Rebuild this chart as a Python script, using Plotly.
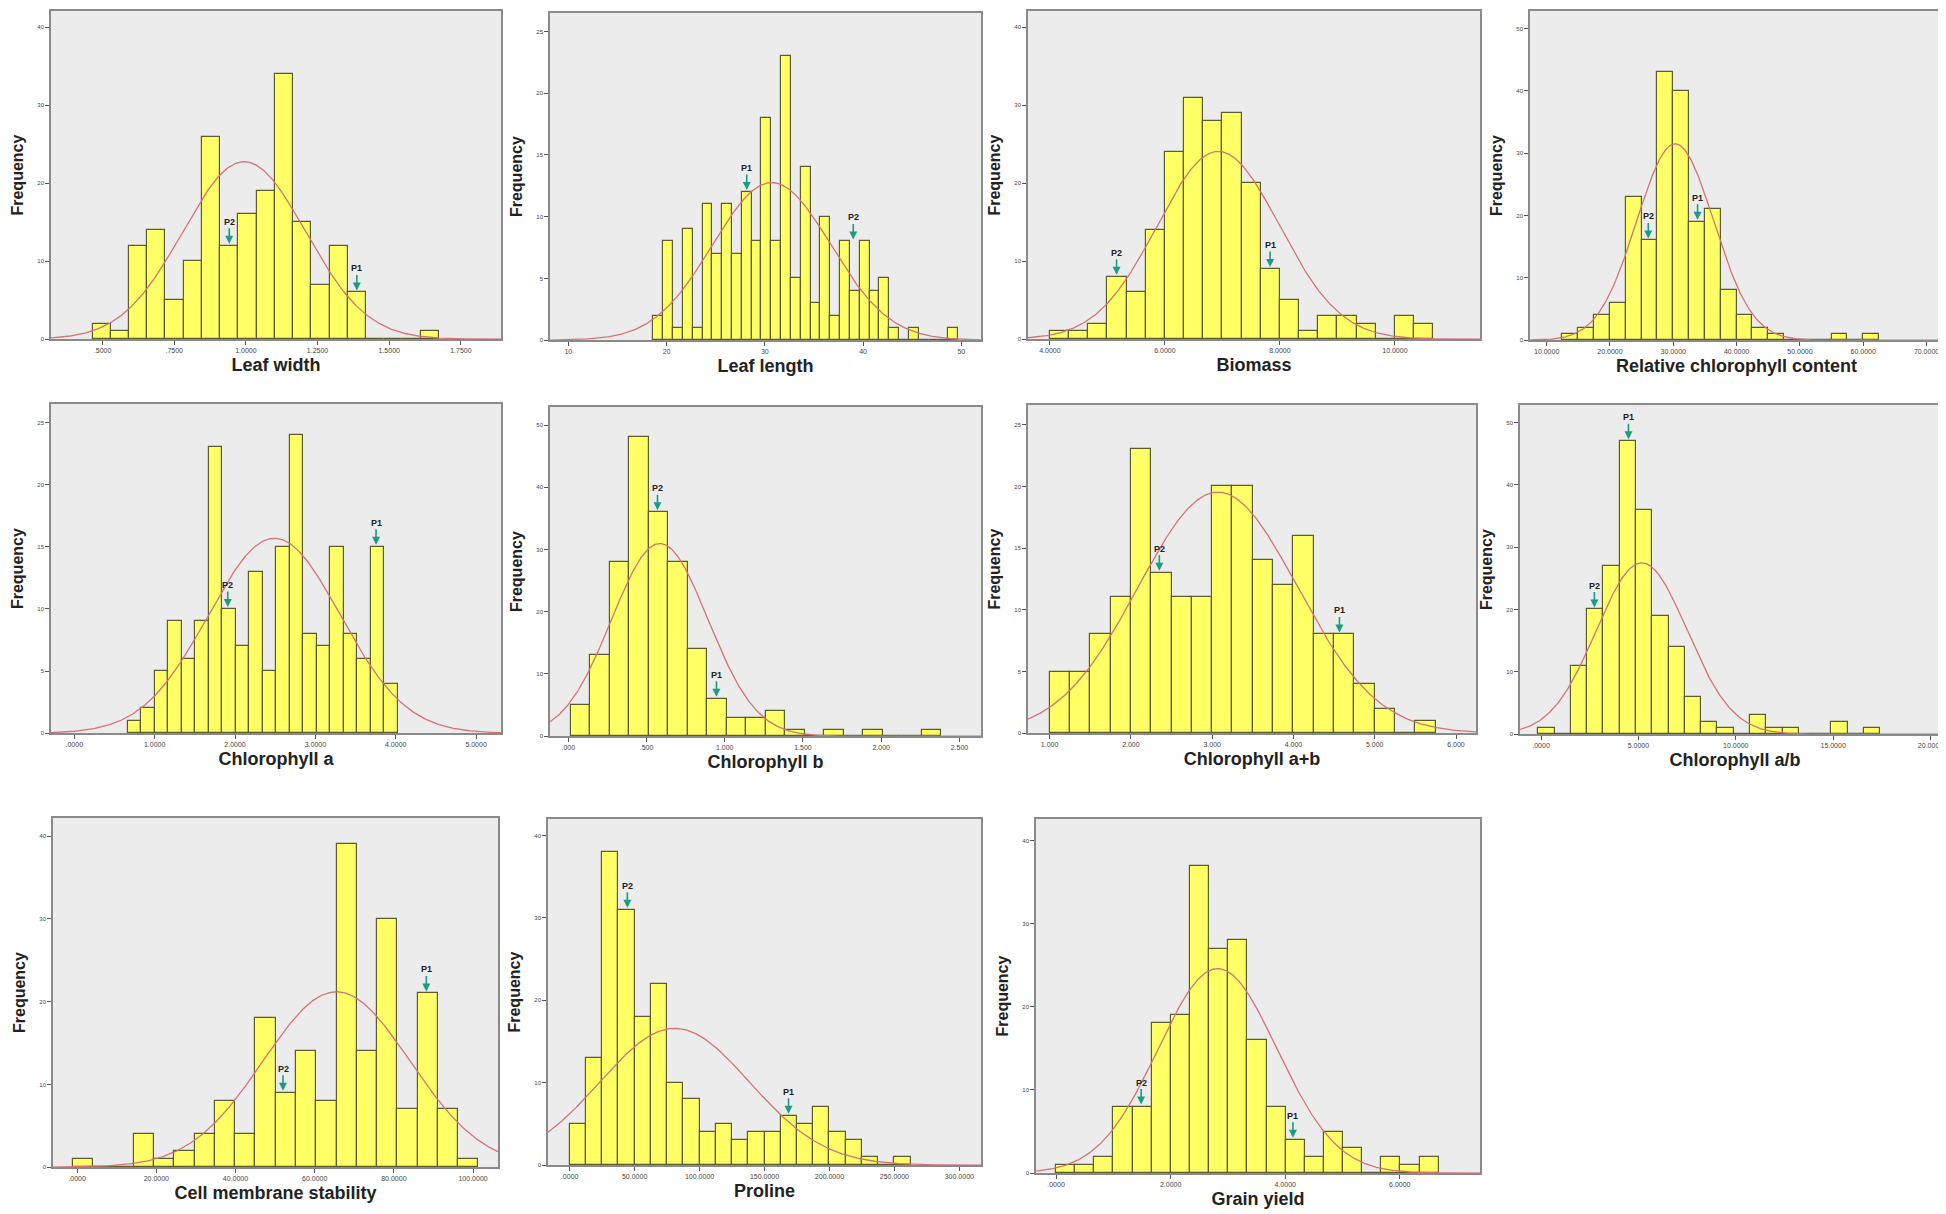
import numpy as np
import plotly.graph_objects as go

W, H = 1946, 1214

# ---------------- data ----------------
leaf_width_counts = [2, 1, 12, 14, 5, 10, 26, 12, 16, 19, 34, 15, 7, 12, 6, 0, 0, 0, 1]
leaf_width_bins = [0.465, 0.0636]          # first bin start, bin width
leaf_width_fit = [0.994, 0.214]            # normal curve mean, sd
leaf_width_marks = [["P2", 0.942, 12], ["P1", 1.387, 6]]
leaf_width_ticks = [0.5, 0.75, 1.0, 1.25, 1.5, 1.75]
leaf_width_ticktext = [".5000", ".7500", "1.0000", "1.2500", "1.5000", "1.7500"]

leaf_length_counts = [2, 8, 1, 9, 1, 11, 7, 11, 7, 12, 8, 18, 8, 23, 5, 14, 3, 10, 2, 8,
                      4, 8, 4, 5, 1, 0, 1, 0, 0, 0, 1]
leaf_length_bins = [18.66, 1.0]
leaf_length_fit = [30.7, 6.0]
leaf_length_marks = [["P1", 28.16, 12], ["P2", 39.0, 8]]
leaf_length_ticks = [10, 20, 30, 40, 50]
leaf_length_ticktext = ["10", "20", "30", "40", "50"]

biomass_counts = [1, 1, 2, 8, 6, 14, 24, 31, 28, 29, 20, 9, 5, 1, 3, 3, 2, 0, 3, 2]
biomass_bins = [4.0, 0.3333]
biomass_fit = [6.93, 1.06]
biomass_marks = [["P2", 5.16, 8], ["P1", 7.83, 9]]
biomass_ticks = [4, 6, 8, 10]
biomass_ticktext = ["4.0000", "6.0000", "8.0000", "10.0000"]

rcc_counts = [1, 2, 4, 6, 23, 16, 43, 40, 19, 21, 8, 4, 2, 1, 0, 0, 0, 1, 0, 1]
rcc_bins = [12.5, 2.5]
rcc_fit = [30.3, 6.08]
rcc_marks = [["P2", 26.05, 16], ["P1", 33.84, 19]]
rcc_ticks = [10, 20, 30, 40, 50, 60, 70]
rcc_ticktext = ["10.0000", "20.0000", "30.0000", "40.0000", "50.0000", "60.0000", "70.0000"]

chla_counts = [1, 2, 5, 9, 6, 9, 23, 10, 7, 13, 5, 15, 24, 8, 7, 15, 8, 6, 15, 4]
chla_bins = [0.664, 0.168]
chla_fit = [2.49, 0.82]
chla_marks = [["P2", 1.91, 10], ["P1", 3.755, 15]]
chla_ticks = [0, 1, 2, 3, 4, 5]
chla_ticktext = [".0000", "1.0000", "2.0000", "3.0000", "4.0000", "5.0000"]

chlb_counts = [5, 13, 28, 48, 36, 28, 14, 6, 3, 3, 4, 1, 0, 1, 0, 1, 0, 0, 1]
chlb_bins = [0.017, 0.1245]
chlb_fit = [0.585, 0.308]
chlb_marks = [["P2", 0.570, 36], ["P1", 0.947, 6]]
chlb_ticks = [0, 0.5, 1.0, 1.5, 2.0, 2.5]
chlb_ticktext = [".000", ".500", "1.000", "1.500", "2.000", "2.500"]

chlab_counts = [5, 5, 8, 11, 23, 13, 11, 11, 20, 20, 14, 12, 16, 8, 8, 4, 2, 0, 1]
chlab_bins = [1.0, 0.25]
chlab_fit = [3.07, 0.98]
chlab_marks = [["P2", 2.35, 13], ["P1", 4.566, 8]]
chlab_ticks = [1, 2, 3, 4, 5, 6]
chlab_ticktext = ["1.000", "2.000", "3.000", "4.000", "5.000", "6.000"]

chlratio_counts = [1, 0, 11, 20, 27, 47, 36, 19, 14, 6, 2, 1, 0, 3, 1, 1, 0, 0, 2, 0, 1]
chlratio_bins = [-0.14, 0.836]
chlratio_fit = [5.17, 2.33]
chlratio_marks = [["P1", 4.49, 47], ["P2", 2.74, 20]]
chlratio_ticks = [0, 5, 10, 15, 20]
chlratio_ticktext = [".0000", "5.0000", "10.0000", "15.0000", "20.0000"]

cms_counts = [1, 0, 0, 4, 1, 2, 4, 8, 4, 18, 9, 14, 8, 39, 14, 30, 7, 21, 7, 1]
cms_bins = [-1.05, 5.12]
cms_fit = [65.5, 18.5]
cms_marks = [["P2", 52.0, 9], ["P1", 88.2, 21]]
cms_ticks = [0, 20, 40, 60, 80, 100]
cms_ticktext = [".0000", "20.0000", "40.0000", "60.0000", "80.0000", "100.0000"]

proline_counts = [5, 13, 38, 31, 18, 22, 10, 8, 4, 5, 3, 4, 4, 6, 5, 7, 4, 3, 1, 0, 1]
proline_bins = [0.0, 12.5]
proline_fit = [80.8, 57.7]
proline_marks = [["P2", 44.4, 31], ["P1", 168.5, 6]]
proline_ticks = [0, 50, 100, 150, 200, 250, 300]
proline_ticktext = [".0000", "50.0000", "100.0000", "150.0000", "200.0000", "250.0000", "300.0000"]

grain_counts = [1, 1, 2, 8, 8, 18, 19, 37, 27, 28, 16, 8, 4, 2, 5, 3, 0, 2, 1, 2]
grain_bins = [0.0, 0.334]
grain_fit = [2.82, 1.04]
grain_marks = [["P2", 1.485, 8], ["P1", 4.135, 4]]
grain_ticks = [0, 2, 4, 6]
grain_ticktext = [".0000", "2.0000", "4.0000", "6.0000"]

# ---------------- panel layout (pixel boxes, axis ranges) ----------------
panels = [
    dict(title="Leaf width", counts=leaf_width_counts, bins=leaf_width_bins, fit=leaf_width_fit,
         marks=leaf_width_marks, ticks=leaf_width_ticks, ticktext=leaf_width_ticktext,
         box=(43, 3, 493, 332), xr=(0.32, 1.89), ymax=42.1, ydt=10),
    dict(title="Leaf length", counts=leaf_length_counts, bins=leaf_length_bins, fit=leaf_length_fit,
         marks=leaf_length_marks, ticks=leaf_length_ticks, ticktext=leaf_length_ticktext,
         box=(542, 5, 973, 333), xr=(8.14, 52.0), ymax=26.5, ydt=5),
    dict(title="Biomass", counts=biomass_counts, bins=biomass_bins, fit=biomass_fit,
         marks=biomass_marks, ticks=biomass_ticks, ticktext=biomass_ticktext,
         box=(1020, 3, 1472, 332), xr=(3.62, 11.48), ymax=42.1, ydt=10),
    dict(title="Relative chlorophyll content", counts=rcc_counts, bins=rcc_bins, fit=rcc_fit,
         marks=rcc_marks, ticks=rcc_ticks, ticktext=rcc_ticktext,
         box=(1522, 3, 1935, 333), xr=(7.37, 72.6), ymax=52.8, ydt=10),
    dict(title="Chlorophyll a", counts=chla_counts, bins=chla_bins, fit=chla_fit,
         marks=chla_marks, ticks=chla_ticks, ticktext=chla_ticktext,
         box=(43, 397, 493, 727), xr=(-0.29, 5.31), ymax=26.5, ydt=5),
    dict(title="Chlorophyll b", counts=chlb_counts, bins=chlb_bins, fit=chlb_fit,
         marks=chlb_marks, ticks=chlb_ticks, ticktext=chlb_ticktext,
         box=(542, 400, 973, 730), xr=(-0.117, 2.638), ymax=52.9, ydt=10),
    dict(title="Chlorophyll a+b", counts=chlab_counts, bins=chlab_bins, fit=chlab_fit,
         marks=chlab_marks, ticks=chlab_ticks, ticktext=chlab_ticktext,
         box=(1020, 398, 1468, 727), xr=(0.734, 6.246), ymax=26.6, ydt=5),
    dict(title="Chlorophyll a/b", counts=chlratio_counts, bins=chlratio_bins, fit=chlratio_fit,
         marks=chlratio_marks, ticks=chlratio_ticks, ticktext=chlratio_ticktext,
         box=(1512, 398, 1942, 728), xr=(-1.08, 21.0), ymax=52.8, ydt=10),
    dict(title="Cell membrane stability", counts=cms_counts, bins=cms_bins, fit=cms_fit,
         marks=cms_marks, ticks=cms_ticks, ticktext=cms_ticktext,
         box=(45, 812, 490, 1162), xr=(-6.1, 106.3), ymax=42.2, ydt=10),
    dict(title="Proline", counts=proline_counts, bins=proline_bins, fit=proline_fit,
         marks=proline_marks, ticks=proline_ticks, ticktext=proline_ticktext,
         box=(540, 813, 973, 1160), xr=(-16.7, 316.7), ymax=42.0, ydt=10),
    dict(title="Grain yield", counts=grain_counts, bins=grain_bins, fit=grain_fit,
         marks=grain_marks, ticks=grain_ticks, ticktext=grain_ticktext,
         box=(1028, 813, 1472, 1168), xr=(-0.35, 7.40), ymax=42.6, ydt=10),
]

BAR_FILL = "#FFFF66"
BAR_LINE = "#5C5C2E"
CURVE = "#D27474"
ARROW = "#1E9C82"
FRAME = "#8A8A8A"
FONT = "Liberation Sans, Arial, sans-serif"

fig = go.Figure()
layout = dict(
    width=W, height=H, margin=dict(l=0, r=0, t=0, b=0),
    paper_bgcolor="white", plot_bgcolor="#ECECEC",
    showlegend=False, font=dict(family=FONT, color="#222"),
    annotations=[],
)

for i, p in enumerate(panels, start=1):
    xa = "x" if i == 1 else f"x{i}"
    ya = "y" if i == 1 else f"y{i}"
    counts = np.array(p["counts"], dtype=float)
    start, width = p["bins"]
    centers = start + width * (np.arange(len(counts)) + 0.5)
    fig.add_trace(go.Bar(
        x=centers, y=counts, width=width, xaxis=xa, yaxis=ya,
        marker=dict(color=BAR_FILL, line=dict(color=BAR_LINE, width=1.2)),
        hoverinfo="x+y",
    ))
    mean, sd = p["fit"]
    n = counts.sum()
    xs = np.linspace(p["xr"][0], p["xr"][1], 400)
    ys = n * width * np.exp(-0.5 * ((xs - mean) / sd) ** 2) / (sd * np.sqrt(2 * np.pi))
    fig.add_trace(go.Scatter(
        x=xs, y=ys, mode="lines", xaxis=xa, yaxis=ya,
        line=dict(color=CURVE, width=1.3), hoverinfo="skip",
    ))
    x0, y0, x1, y1 = p["box"]
    key = "" if i == 1 else str(i)
    layout["xaxis" + key] = dict(
        domain=[x0 / W, x1 / W], anchor=ya, range=list(p["xr"]),
        tickvals=p["ticks"], ticktext=p["ticktext"], ticks="outside", ticklen=4,
        tickcolor="#555", tickfont=dict(size=7, color="#444"),
        showline=True, mirror=True, linecolor=FRAME, linewidth=1.5,
        showgrid=False, zeroline=False,
        title=dict(text="<b>" + p["title"] + "</b>", font=dict(size=18, color="#222"), standoff=5),
    )
    layout["yaxis" + key] = dict(
        domain=[1 - y1 / H, 1 - y0 / H], anchor=xa, range=[0, p["ymax"]],
        dtick=p["ydt"], ticks="outside", ticklen=4, tickcolor="#555",
        tickfont=dict(size=6, color="#444"),
        showline=True, mirror=True, linecolor=FRAME, linewidth=1.5,
        showgrid=False, zeroline=False,
        title=dict(text="<b>Frequency</b>", font=dict(size=16, color="#222"), standoff=10),
    )
    for label, mx, my in p["marks"]:
        layout["annotations"].append(dict(
            x=mx, y=my, xref=xa, yref=ya, text="<b>" + label + "</b>",
            showarrow=True, ax=0, ay=-24, arrowhead=2, arrowsize=1, arrowwidth=1.6,
            arrowcolor=ARROW, standoff=2, font=dict(size=9, color="#222"),
        ))

layout["bargap"] = 0
fig.update_layout(**layout)
fig.write_html("out.html")
